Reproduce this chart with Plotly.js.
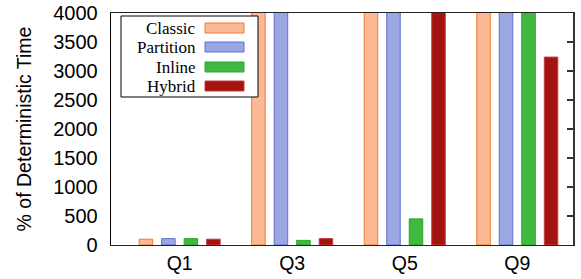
<!DOCTYPE html>
<html>
<head>
<meta charset="utf-8">
<script src="https://cdn.plot.ly/plotly-3.0.1.min.js"></script>
<style>html,body{margin:0;padding:0;background:#fff}#chart{width:581px;height:279px}</style>
</head>
<body>
<div id="chart"></div>
<script>
// Data (values above 4000 are clipped at the top of the chart)
var categories = ["Q1", "Q3", "Q5", "Q9"];
var seriesNames = ["Classic", "Partition", "Inline", "Hybrid"];
var classic   = [100, 4500, 4500, 4500];
var partition = [110, 4500, 4500, 4500];
var inline    = [110, 80, 450, 4500];
var hybrid    = [100, 110, 4500, 3240];
var yTicks = [0, 500, 1000, 1500, 2000, 2500, 3000, 3500, 4000];

var fills   = ["#fbb995", "#9ba7e3", "#3fb93f", "#a51212"];
var borders = ["#f47a2e", "#5f70d6", "#2aa82a", "#c43c3c"];
var seriesValues = [classic, partition, inline, hybrid];

var traces = seriesValues.map(function (vals, i) {
  return {
    type: "bar",
    name: seriesNames[i],
    x: categories,
    y: vals,
    marker: {color: fills[i], line: {color: borders[i], width: 1}},
    showlegend: false,
    hoverinfo: "x+y+name"
  };
});
// carrier for the mirrored right axis
traces.push({type: "bar", x: [], y: [], yaxis: "y2", showlegend: false, hoverinfo: "skip"});

// plot area geometry in pixels (for legend built in paper coordinates)
var W = 581, H = 279, L = 111, R = 8, T = 13, B = 34;
var pw = W - L - R, ph = H - T - B;
function px(x) { return (x - L) / pw; }
function py(y) { return (H - B - y) / ph; }

var shapes = [{
  type: "rect", xref: "paper", yref: "paper",
  x0: px(121), x1: px(258), y0: py(97), y1: py(16),
  line: {color: "#000", width: 1}, fillcolor: "#fff", layer: "above"
}];
var annotations = [];
var rowY = [28, 47, 67, 86];
seriesNames.forEach(function (n, i) {
  shapes.push({
    type: "rect", xref: "paper", yref: "paper",
    x0: px(205), x1: px(244), y0: py(rowY[i] + 5), y1: py(rowY[i] - 5),
    line: {color: borders[i], width: 1}, fillcolor: fills[i], layer: "above"
  });
  annotations.push({
    xref: "paper", yref: "paper", x: px(198), y: py(rowY[i]),
    xanchor: "right", yanchor: "middle", showarrow: false, text: n,
    font: {family: "Liberation Serif, Times New Roman, serif", size: 17, color: "#000"}
  });
});

var layout = {
  width: W, height: H,
  margin: {l: L, r: R, t: T, b: B, pad: 0},
  paper_bgcolor: "#fff", plot_bgcolor: "#fff",
  barmode: "group", bargap: 0.2, bargroupgap: 0.4,
  font: {family: "Liberation Sans, Arial, sans-serif", size: 19, color: "#000"},
  xaxis: {
    type: "category", range: [-0.61, 3.495],
    showline: true, linecolor: "#222", linewidth: 1.3, mirror: true,
    ticks: "", showgrid: false, zeroline: false,
    tickfont: {size: 19.5}
  },
  yaxis: {
    range: [0, 4000], tickvals: yTicks, ticktext: yTicks.map(String),
    showline: true, linecolor: "#000", linewidth: 1.3,
    ticks: "outside", ticklen: 8, tickcolor: "rgba(0,0,0,0)",
    showgrid: false, zeroline: false,
    tickfont: {size: 20},
    title: {text: "% of Deterministic Time", font: {size: 19.5}, standoff: 16}
  },
  yaxis2: {
    overlaying: "y", side: "right", range: [0, 4000], tickvals: yTicks,
    showticklabels: false, ticks: "inside", ticklen: 6, tickwidth: 1.3, tickcolor: "#333",
    showline: true, linecolor: "#333", linewidth: 1.5,
    showgrid: false, zeroline: false
  },
  shapes: shapes,
  annotations: annotations
};

Plotly.newPlot("chart", traces, layout, {displayModeBar: false, staticPlot: true});
</script>
</body>
</html>
